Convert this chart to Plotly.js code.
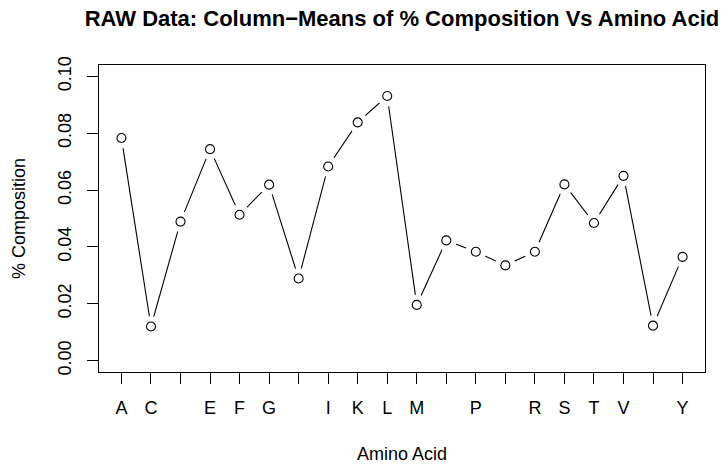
<!DOCTYPE html>
<html>
<head>
<meta charset="utf-8">
<script src="https://cdn.plot.ly/plotly-3.0.1.min.js"></script>
<style>
  html, body { margin: 0; padding: 0; background: #ffffff; }
  #chart { width: 726px; height: 464px; }
</style>
</head>
<body>
<div id="chart"></div>
<script>
// Column means of % composition for each amino acid (one-letter codes)
const aminoAcids = ["A","C","D","E","F","G","H","I","K","L","M","N","P","Q","R","S","T","V","W","Y"];
const meanComposition = [0.0783, 0.0120, 0.0489, 0.0744, 0.0513, 0.0619, 0.0289, 0.0683, 0.0838, 0.0931,
                         0.0196, 0.0423, 0.0383, 0.0335, 0.0383, 0.0620, 0.0484, 0.0650, 0.0123, 0.0365];
// Labels actually printed under the ticks (crowded ones are left blank)
const tickLabels = ["A","C","","E","F","G","","I","K","L","M","","P","","R","S","T","V","","Y"];
const yTickValues = [0, 0.02, 0.04, 0.06, 0.08, 0.10];
const yTickLabels = ["0.00", "0.02", "0.04", "0.06", "0.08", "0.10"];

const xPos = aminoAcids.map((_, i) => i + 1);
const FONT = "Liberation Sans, Arial, Helvetica, sans-serif";

const traces = [
  { // connecting line
    x: xPos, y: meanComposition, type: "scatter", mode: "lines",
    line: { color: "#000000", width: 1.1 }, hoverinfo: "skip", showlegend: false
  },
  { // white halo that breaks the line around each point
    x: xPos, y: meanComposition, type: "scatter", mode: "markers",
    marker: { symbol: "circle", size: 21, color: "#ffffff", line: { width: 0 } },
    hoverinfo: "skip", showlegend: false
  },
  { // open circle points
    x: xPos, y: meanComposition, text: aminoAcids, type: "scatter", mode: "markers",
    marker: { symbol: "circle-open", size: 9, color: "#000000", line: { width: 1.1, color: "#000000" } },
    hovertemplate: "%{text}: %{y:.4f}<extra></extra>", showlegend: false
  }
];

const layout = {
  width: 726, height: 464,
  paper_bgcolor: "#ffffff", plot_bgcolor: "#ffffff",
  margin: { l: 99, r: 21, t: 65, b: 92, pad: 0 },
  font: { family: FONT, size: 18, color: "#000000" },
  title: {
    text: "<b>RAW Data: Column\u2212Means of % Composition Vs Amino Acid</b>",
    font: { family: FONT, size: 22, color: "#000000" },
    xref: "paper", x: 0.5, xanchor: "center",
    yref: "container", y: 1 - 18 / 464, yanchor: "middle"
  },
  xaxis: {
    range: [0.24, 20.76], showgrid: false, zeroline: false,
    tickmode: "array", tickvals: xPos, ticktext: tickLabels,
    ticks: "outside", ticklen: 11, tickwidth: 1, tickcolor: "#000000",
    showline: true, linecolor: "#000000", linewidth: 1, mirror: true,
    tickfont: { family: FONT, size: 18 },
    ticklabelstandoff: 8,
    title: { text: "Amino Acid", font: { family: FONT, size: 18 }, standoff: 30 }
  },
  yaxis: {
    range: [-0.004, 0.104], showgrid: false, zeroline: false,
    tickmode: "array", tickvals: yTickValues, ticktext: yTickLabels,
    tickangle: -90,
    ticks: "outside", ticklen: 11, tickwidth: 1, tickcolor: "#000000",
    showline: true, linecolor: "#000000", linewidth: 1, mirror: true,
    tickfont: { family: FONT, size: 18 },
    ticklabelstandoff: 9,
    title: { text: "% Composition", font: { family: FONT, size: 18 }, standoff: 24 }
  }
};

Plotly.newPlot("chart", traces, layout, { staticPlot: true, displayModeBar: false });
</script>
</body>
</html>
